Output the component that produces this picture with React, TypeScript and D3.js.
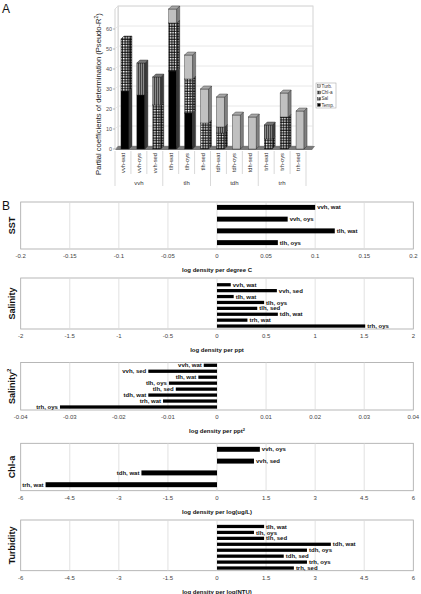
import React from "react";
import * as d3 from "d3";

// ---------- Panel A data ----------
const catA = ["vvh-wat","vvh-oys","vvh-sed","tlh-wat","tlh-oys","tlh-sed","tdh-wat","tdh-oys","tdh-sed","trh-wat","trh-oys","trh-sed"];
const groupsA = ["vvh","tlh","tdh","trh"];
const tempA = [29,27,0,39,18,0,0,0,0,0,0,0];
const salA = [26,0,22,24,17,13,8,0,0,5,16,0];
const chlA = [0,16,14,0,0,0,3,0,0,7,0,0];
const turbA = [0,0,0,7,12,17,15,17,16,0,12,19];
const yTicksA = [0,10,20,30,40,50,60];
const gridA = [10,20,30,40,50,60,70];
const legendA = ["Turb.","Chl-a","Sal","Temp."];

// ---------- Panel B data ----------
const sstCats = ["vvh, wat","vvh, oys","tlh, wat","tlh, oys"];
const sstVals = [0.1,0.072,0.12,0.062];
const sstTicks = [-0.2,-0.15,-0.1,-0.05,0,0.05,0.1,0.15,0.2];
const sstTickLabels = ["-0.2","-0.15","-0.1","-0.05","0","0.05","0.1","0.15","0.2"];

const salCats = ["vvh, wat","vvh, sed","tlh, wat","tlh, oys","tlh, sed","tdh, wat","trh, wat","trh, oys"];
const salVals = [0.14,0.61,0.17,0.48,0.41,0.62,0.31,1.51];
const salTicks = [-2,-1.5,-1,-0.5,0,0.5,1,1.5,2];
const salTickLabels = ["-2","-1.5","-1","-0.5","0","0.5","1","1.5","2"];

const sal2Cats = ["vvh, wat","vvh, sed","tlh, wat","tlh, oys","tlh, sed","tdh, wat","trh, wat","trh, oys"];
const sal2Vals = [-0.0027,-0.014,-0.0038,-0.0098,-0.0084,-0.014,-0.011,-0.032];
const sal2Ticks = [-0.04,-0.03,-0.02,-0.01,0,0.01,0.02,0.03,0.04];
const sal2TickLabels = ["-0.04","-0.03","-0.02","-0.01","0","0.01","0.02","0.03","0.04"];

const chlCats = ["vvh, oys","vvh, sed","tdh, wat","trh, wat"];
const chlVals = [1.31,1.13,-2.31,-5.24];
const chlTicks = [-6,-4.5,-3,-1.5,0,1.5,3,4.5,6];
const chlTickLabels = ["-6","-4.5","-3","-1.5","0","1.5","3","4.5","6"];

const turbCats = ["tlh, wat","tlh, oys","tlh, sed","tdh, wat","tdh, oys","tdh, sed","trh, oys","trh, sed"];
const turbVals = [1.44,1.13,1.44,3.48,2.75,2.04,2.75,2.35];
const turbTicks = [-6,-4.5,-3,-1.5,0,1.5,3,4.5,6];
const turbTickLabels = ["-6","-4.5","-3","-1.5","0","1.5","3","4.5","6"];

const FONT = "Liberation Sans, Arial, sans-serif";

type PanelProps = {
  label: React.ReactNode;
  cats: string[];
  vals: number[];
  ticks: number[];
  tickLabels: string[];
  title: React.ReactNode;
  top: number;
  bottom: number;
  bandTop: number;
  bandBottom: number;
  barFrac: number;
};

function PanelB(p: PanelProps) {
  const x = d3.scaleLinear().domain([p.ticks[0], p.ticks[p.ticks.length - 1]]).range([20.7, 413.3]);
  const y = d3.scaleBand<string>().domain(p.cats).range([p.bandTop, p.bandBottom]);
  const step = y.step();
  const bh = step * p.barFrac;
  const x0 = x(0);
  return (
    <g>
      <rect x={x.range()[0]} y={p.top} width={x.range()[1] - x.range()[0]} height={p.bottom - p.top} fill="white" stroke="#a6a6a6" strokeWidth={0.8} />
      {p.ticks.slice(1, -1).map((t) => (
        <line key={t} x1={x(t)} x2={x(t)} y1={p.top} y2={p.bottom} stroke="#d9d9d9" strokeWidth={0.8} />
      ))}
      {p.cats.map((c, i) => {
        const v = p.vals[i];
        const cy = (y(c) as number) + step / 2;
        const xe = x(v);
        return (
          <g key={c}>
            <rect x={Math.min(x0, xe)} y={cy - bh / 2} width={Math.abs(xe - x0)} height={bh} fill="black" />
            <text x={v >= 0 ? xe + 2 : xe - 2} y={cy} dy="0.35em" fontSize={6} fontWeight="bold" fontFamily={FONT} textAnchor={v >= 0 ? "start" : "end"} fill="#111">{c}</text>
          </g>
        );
      })}
      {p.ticks.map((t, i) => (
        <text key={t} x={x(t)} y={p.bottom + 9} fontSize={6} fontFamily={FONT} textAnchor="middle" fill="#444">{p.tickLabels[i]}</text>
      ))}
      <text x={(x.range()[0] + x.range()[1]) / 2} y={p.bottom + 23} fontSize={6} fontWeight="bold" fontFamily={FONT} textAnchor="middle" fill="#111">{p.title}</text>
      <text transform={`translate(15,${(p.top + p.bottom) / 2}) rotate(-90)`} fontSize={9} fontWeight="bold" fontFamily={FONT} textAnchor="middle" fill="#111">{p.label}</text>
    </g>
  );
}

function PanelA() {
  const yA = d3.scaleLinear().domain([0, 70]).range([149, 9]);
  const xA = d3.scaleBand<string>().domain(catA).range([115, 306]);
  const step = xA.step();
  const D = 3; // 3D depth
  const bw = 8;
  const series = [
    { name: "Temp.", vals: tempA, front: "black", side: "#3a3a3a", topc: "#555" },
    { name: "Sal", vals: salA, front: "url(#pSal)", side: "url(#pSalD)", topc: "url(#pSal)" },
    { name: "Chl-a", vals: chlA, front: "url(#pChl)", side: "#3c3c3c", topc: "#777" },
    { name: "Turb.", vals: turbA, front: "#c0c0c0", side: "#808080", topc: "#a8a8a8" },
  ];
  const stacked = d3.stack<number>().keys(series.map((_, i) => String(i))).value((d, k) => series[+k].vals[d])(d3.range(catA.length));
  const legendFill: Record<string, string> = { "Turb.": "#c0c0c0", "Chl-a": "url(#pChl)", "Sal": "url(#pSal)", "Temp.": "black" };
  const wallL = 118, wallR = 313;
  return (
    <g>
      <defs>
        <pattern id="pSal" width={2.6} height={2.6} patternUnits="userSpaceOnUse">
          <rect width={2.6} height={2.6} fill="black" />
          <rect x={0.7} y={0.7} width={1.6} height={1.6} fill="white" />
        </pattern>
        <pattern id="pSalD" width={2.6} height={2.6} patternUnits="userSpaceOnUse">
          <rect width={2.6} height={2.6} fill="black" />
          <rect x={0.7} y={0.7} width={1.6} height={1.6} fill="#999" />
        </pattern>
        <pattern id="pChl" width={2} height={2} patternUnits="userSpaceOnUse">
          <rect width={2} height={2} fill="#8a8a8a" />
          <rect width={0.9} height={2} fill="#3a3a3a" />
        </pattern>
      </defs>
      <text x={2} y={13} fontSize={12} fontFamily={FONT} fill="#111">A</text>
      {/* walls */}
      <rect x={wallL} y={yA(70) - D} width={wallR - wallL} height={yA(0) - yA(70)} fill="white" stroke="#c8c8c8" strokeWidth={0.8} />
      <polygon points={`${wallL - D},${yA(70)} ${wallL},${yA(70) - D} ${wallL},${yA(0) - D} ${wallL - D},${yA(0)}`} fill="white" stroke="#c8c8c8" strokeWidth={0.8} />
      {gridA.map((g) => (
        <g key={g}>
          <line x1={wallL} x2={wallR} y1={yA(g) - D} y2={yA(g) - D} stroke="#e2e2e2" strokeWidth={0.8} />
          <line x1={wallL - D} x2={wallL} y1={yA(g)} y2={yA(g) - D} stroke="#e2e2e2" strokeWidth={0.8} />
        </g>
      ))}
      {/* floor */}
      <polygon points={`${wallL - D},${yA(0) + 1} ${wallR - D + 2},${yA(0) + 1} ${wallR + 2},${yA(0) - D} ${wallL},${yA(0) - D}`} fill="#7a7a7a" />
      {/* y axis */}
      {yTicksA.map((t) => (
        <g key={t}>
          <line x1={wallL - D - 2} x2={wallL - D} y1={yA(t)} y2={yA(t)} stroke="#888" strokeWidth={0.6} />
          <text x={wallL - D - 3} y={yA(t)} dy="0.35em" fontSize={5.5} fontFamily={FONT} textAnchor="end" fill="#555">{t}</text>
        </g>
      ))}
      <text transform={`translate(101,94) rotate(-90)`} fontSize={7.6} fontFamily={FONT} textAnchor="middle" fill="#222">
        Partial coefficients of determination (Pseudo-R<tspan fontSize={5} dy={-3}>2</tspan><tspan dy={3}>)</tspan>
      </text>
      {/* bars */}
      {catA.map((c, i) => {
        const cx = (xA(c) as number) + step / 2 + 2;
        const x0 = cx - bw / 2, x1 = cx + bw / 2;
        const segs = stacked.map((s, k) => ({ k, y0: s[i][0], y1: s[i][1] })).filter((s) => s.y1 > s.y0);
        const topSeg = segs[segs.length - 1];
        return (
          <g key={c}>
            {segs.map((s) => {
              const ser = series[s.k];
              const yt = yA(s.y1), yb = yA(s.y0);
              return (
                <g key={s.k}>
                  <rect x={x0} y={yt} width={bw} height={yb - yt} fill={ser.front} stroke="#222" strokeWidth={0.4} />
                  <polygon points={`${x1},${yb} ${x1},${yt} ${x1 + D},${yt - D} ${x1 + D},${yb - D}`} fill={ser.side} stroke="#222" strokeWidth={0.4} />
                </g>
              );
            })}
            {topSeg && (
              <polygon points={`${x0},${yA(topSeg.y1)} ${x0 + D},${yA(topSeg.y1) - D} ${x1 + D},${yA(topSeg.y1) - D} ${x1},${yA(topSeg.y1)}`} fill={series[topSeg.k].topc} stroke="#222" strokeWidth={0.4} />
            )}
          </g>
        );
      })}
      {/* category axis */}
      {d3.range(catA.length + 1).map((i) => {
        const xx = 115 + i * step;
        return <line key={i} x1={xx} x2={xx} y1={151} y2={i % 3 === 0 ? 186 : 174} stroke="#c8c8c8" strokeWidth={0.7} />;
      })}
      {catA.map((c) => (
        <text key={c} transform={`translate(${(xA(c) as number) + step / 2},153) rotate(-90)`} dy="0.35em" fontSize={5.8} fontFamily={FONT} textAnchor="end" fill="#333">{c}</text>
      ))}
      {groupsA.map((g, gi) => (
        <text key={g} x={115 + (gi * 3 + 1.5) * step} y={184.5} fontSize={6} fontFamily={FONT} textAnchor="middle" fill="#333">{g}</text>
      ))}
      {/* legend */}
      <rect x={316} y={83} width={20} height={25} fill="white" stroke="#aaa" strokeWidth={0.6} />
      {legendA.map((l, i) => (
        <g key={l}>
          <rect x={317.5} y={84.8 + i * 6.2} width={3} height={3} fill={legendFill[l]} stroke="#222" strokeWidth={0.3} />
          <text x={321.5} y={86.3 + i * 6.2} dy="0.35em" fontSize={4.6} fontFamily={FONT} fill="#333">{l}</text>
        </g>
      ))}
    </g>
  );
}

export default function App() {
  return (
    <svg width={421} height={594} style={{ position: "absolute", left: 0, top: 0, background: "white" }}>
      <rect width={421} height={594} fill="white" />
      <PanelA />
      <text x={2} y={210} fontSize={12} fontFamily={FONT} fill="#111">B</text>
      <PanelB label="SST" cats={sstCats} vals={sstVals} ticks={sstTicks} tickLabels={sstTickLabels} title="log density per degree C" top={202} bottom={249} bandTop={201.5} bandBottom={248.5} barFrac={0.42} />
      <PanelB label="Salinity" cats={salCats} vals={salVals} ticks={salTicks} tickLabels={salTickLabels} title="log density per ppt" top={278} bottom={329} bandTop={281.8} bandBottom={329} barFrac={0.55} />
      <PanelB label={<>Salinity<tspan fontSize={6} dy={-4}>2</tspan></>} cats={sal2Cats} vals={sal2Vals} ticks={sal2Ticks} tickLabels={sal2TickLabels} title={<>log density per ppt<tspan fontSize={4} dy={-2.5}>2</tspan></>} top={362.5} bottom={410} bandTop={362.3} bandBottom={410} barFrac={0.55} />
      <PanelB label="Chl-a" cats={chlCats} vals={chlVals} ticks={chlTicks} tickLabels={chlTickLabels} title="log density per log(ug/L)" top={443.3} bottom={490.7} bandTop={443.4} bandBottom={490.6} barFrac={0.42} />
      <PanelB label="Turbidity" cats={turbCats} vals={turbVals} ticks={turbTicks} tickLabels={turbTickLabels} title="log density per log(NTU)" top={520} bottom={570.7} bandTop={523.5} bandBottom={571} barFrac={0.55} />
    </svg>
  );
}
